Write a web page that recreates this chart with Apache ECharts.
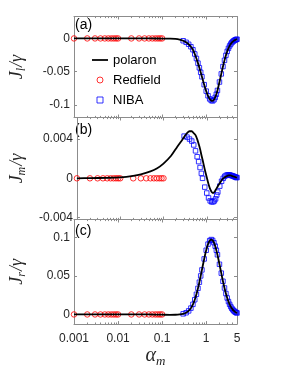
<!DOCTYPE html>
<html><head><meta charset="utf-8">
<script src="https://cdn.jsdelivr.net/npm/echarts@6/dist/echarts.min.js"></script>
<style>html,body{margin:0;padding:0;background:#fff}#c{width:299px;height:369px}</style>
</head><body><div id="c"></div><script>
// ---------- data ----------
const redfieldX = [0.001,0.002,0.003,0.004,0.005,0.006,0.007,0.008,0.009,0.01,0.02,0.03,0.04,0.05,0.06,0.07,0.08,0.09,0.1];
const redfieldL = [0,0,0,0,0,0,0,0,0,0,0,0,0,0,0,0,0,0,0];
const redfieldM = [0,0,0,0,0,0,0,0,0,0,0,0,0,0,0,0,0,0,0];
const redfieldR = [0,0,0,0,0,0,0,0,0,0,0,0,0,0,0,0,0,0,0];

const polaronX = [0.001,0.002,0.005,0.01,0.02,0.03,0.05,0.07,0.1,0.15,0.2,0.25,0.3,0.35,0.4,0.45,0.5,0.55,0.6,0.65,0.7,0.75,0.8,0.9,1.0,1.1,1.2,1.3,1.4,1.5,1.6,1.7,1.8,2.0,2.2,2.4,2.6,2.8,3.0,3.2,3.4,3.6,3.8,4.0,4.2,4.4,4.6,4.8,5.0];
const polaronL = [0,0,0,0,0,0,0,-0.0001,-0.0002,-0.0004,-0.0008,-0.0018,-0.0035,-0.0058,-0.0088,-0.0125,-0.017,-0.0234,-0.0302,-0.0372,-0.0442,-0.051,-0.0577,-0.0696,-0.0793,-0.0863,-0.091,-0.0934,-0.094,-0.0923,-0.0888,-0.084,-0.0783,-0.0656,-0.0534,-0.0423,-0.033,-0.0255,-0.0195,-0.0149,-0.0113,-0.0085,-0.0064,-0.0049,-0.0037,-0.0028,-0.0021,-0.0016,-0.0012];
const polaronM = [0,0.00002,0.00005,0.0001,0.00025,0.0004,0.0007,0.001,0.0015,0.0023,0.0031,0.0037,0.0042,0.0046,0.0048,0.0048,0.0046,0.0044,0.004,0.0035,0.003,0.0024,0.0019,0.0009,0.0001,-0.0006,-0.0011,-0.0014,-0.0015,-0.0014,-0.0012,-0.001,-0.0008,-0.0005,-0.0002,0,0.0001,0.0002,0.00025,0.0003,0.0003,0.0003,0.00025,0.0002,0.00018,0.00015,0.00012,0.0001,0.00008];
const polaronR = [0,0,0,0,0,0,0,-0.0001,-0.0003,-0.0005,-0.0004,0,0.0008,0.0022,0.0046,0.0082,0.0131,0.0191,0.0261,0.0338,0.0418,0.0499,0.0577,0.0719,0.0832,0.0911,0.0956,0.097,0.0959,0.0929,0.0885,0.0832,0.0773,0.065,0.0535,0.043,0.0343,0.0271,0.0213,0.0167,0.0131,0.0102,0.008,0.0063,0.0049,0.0039,0.003,0.0024,0.0019];

const nibaX = [0.3,0.35,0.4,0.45,0.5,0.55,0.6,0.65,0.7,0.75,0.8,0.9,1.0,1.1,1.2,1.3,1.4,1.5,1.6,1.7,1.8,2.0,2.2,2.4,2.6,2.8,3.0,3.2,3.4,3.6,3.8,4.0,4.2,4.4,4.6,4.8,5.0];
const nibaL = [-0.0035,-0.0058,-0.0088,-0.0125,-0.017,-0.0234,-0.0302,-0.0372,-0.0442,-0.051,-0.0577,-0.0696,-0.0793,-0.0863,-0.091,-0.0934,-0.094,-0.0923,-0.0888,-0.084,-0.0783,-0.0656,-0.0534,-0.0423,-0.033,-0.0255,-0.0195,-0.0149,-0.0113,-0.0085,-0.0064,-0.0049,-0.0037,-0.0028,-0.0021,-0.0016,-0.0012];
const nibaM = [0.0043,0.0042,0.004,0.0038,0.0034,0.0028,0.0022,0.0017,0.0011,0.0005,0,-0.0009,-0.0015,-0.002,-0.0023,-0.0024,-0.0024,-0.0023,-0.0021,-0.0017,-0.0014,-0.0008,-0.0003,0,0.0002,0.0003,0.00034,0.00035,0.00034,0.0003,0.00027,0.00024,0.0002,0.00016,0.00012,0.00009,0.00007];
const nibaR = [0.0008,0.0022,0.0046,0.0082,0.0131,0.0191,0.0261,0.0338,0.0418,0.0499,0.0577,0.0719,0.0832,0.0911,0.0956,0.097,0.0959,0.0929,0.0885,0.0832,0.0773,0.065,0.0535,0.043,0.0343,0.0271,0.0213,0.0167,0.0131,0.0102,0.008,0.0063,0.0049,0.0039,0.003,0.0024,0.0019];

const xTickValues = [0.001,0.01,0.1,1,5];
const xMinorTicks = [0.002,0.003,0.004,0.005,0.006,0.007,0.008,0.009,0.02,0.03,0.04,0.05,0.06,0.07,0.08,0.09,0.2,0.3,0.4,0.5,0.6,0.7,0.8,0.9,2,3,4];
const yTicksL = [-0.1,-0.05,0];
const yTicksM = [-0.004,0,0.004];
const yTicksR = [0,0.05,0.1];
const panelLetters = ['(a)','(b)','(c)'];
const yNames = ['{i|J}{s|l}{i|/γ}','{i|J}{s|m}{i|/γ}','{i|J}{s|r}{i|/γ}'];

// ---------- layout ----------
const AX = '#8c8c8c', TXT = '#262626', SANS = 'Liberation Sans', SERIF = 'Liberation Serif';
const grids = [
  {left:71, width:166, top:16.5, height:101},
  {left:71, width:166, top:117.5, height:102},
  {left:71, width:166, top:219.5, height:107}
];
const yRanges = [[-0.119,0.033],[-0.0042,0.0062],[-0.0125,0.123]];
const yTicks = [yTicksL, yTicksM, yTicksR];
const panelY = [26, 131, 232];
const richName = {
  i:{fontFamily:SERIF, fontStyle:'italic', fontSize:18, color:TXT, lineHeight:22, verticalAlign:'middle'},
  s:{fontFamily:SERIF, fontStyle:'italic', fontSize:12, color:TXT, lineHeight:12, verticalAlign:'bottom', padding:[0,1,0,0]}
};
const fmt = v => String(Math.round(v*100000)/100000);

const xAxes = [], yAxes = [];
for (let i = 0; i < 3; i++) {
  const base = {gridIndex:i, type:'log', logBase:10, min:0.001, max:5, splitLine:{show:false}, minorTick:{show:false}};
  xAxes.push(Object.assign({}, base, {position:'bottom',
    axisLine:{show:true, onZero:false, lineStyle:{color:AX, width:1}},
    axisTick:{show:true, inside:true, length:3, lineStyle:{color:AX}, customValues:xTickValues},
    axisLabel:{show:i===2, customValues:xTickValues, formatter:fmt, color:TXT, fontSize:12, fontFamily:SANS, margin:9},
    name: i===2 ? '{a|α}{s|m}' : '', nameLocation:'middle', nameGap:15,
    nameTextStyle:{rich:{a:{fontFamily:SERIF, fontStyle:'italic', fontSize:20, color:TXT, lineHeight:24, verticalAlign:'middle'},
                         s:{fontFamily:SERIF, fontStyle:'italic', fontSize:13, color:TXT, lineHeight:13, verticalAlign:'bottom'}}}
  }));
  xAxes.push(Object.assign({}, base, {position:'bottom', axisLine:{show:false, onZero:false},
    axisTick:{show:true, inside:true, length:1.6, lineStyle:{color:AX}, customValues:xMinorTicks}, axisLabel:{show:false}}));
  xAxes.push(Object.assign({}, base, {position:'top', axisLine:{show:true, onZero:false, lineStyle:{color:AX, width:1}},
    axisTick:{show:true, inside:true, length:3, lineStyle:{color:AX}, customValues:xTickValues}, axisLabel:{show:false}}));
  xAxes.push(Object.assign({}, base, {position:'top', axisLine:{show:false, onZero:false},
    axisTick:{show:true, inside:true, length:1.6, lineStyle:{color:AX}, customValues:xMinorTicks}, axisLabel:{show:false}}));

  const ybase = {gridIndex:i, type:'value', min:yRanges[i][0], max:yRanges[i][1], splitLine:{show:false}};
  yAxes.push(Object.assign({}, ybase, {position:'left',
    axisLine:{show:true, onZero:false, lineStyle:{color:AX, width:1}},
    axisTick:{show:true, inside:true, length:3, lineStyle:{color:AX}, customValues:yTicks[i]},
    axisLabel:{show:true, customValues:yTicks[i], formatter:fmt, color:TXT, fontSize:12, fontFamily:SANS, margin:4},
    name:yNames[i], nameLocation:'middle', nameRotate:90, nameGap:46, nameTextStyle:{rich:richName}
  }));
  yAxes.push(Object.assign({}, ybase, {position:'right',
    axisLine:{show:true, onZero:false, lineStyle:{color:AX, width:1}},
    axisTick:{show:true, inside:true, length:3, lineStyle:{color:AX}, customValues:yTicks[i]},
    axisLabel:{show:false}}));
}

const zip = (xs, ys) => xs.map((x, k) => [x, ys[k]]);
const redSets = [redfieldL, redfieldM, redfieldR];
const nibaSets = [nibaL, nibaM, nibaR];
const polSets = [polaronL, polaronM, polaronR];
const series = [];
for (let i = 0; i < 3; i++) {
  series.push({name:'Redfield', type:'scatter', xAxisIndex:4*i, yAxisIndex:2*i, clip:false, z:3,
    symbol:'circle', symbolSize:5.5, itemStyle:{color:'rgba(0,0,0,0)', borderColor:'#ff0000', borderWidth:1},
    data:zip(redfieldX, redSets[i])});
  series.push({name:'NIBA', type:'scatter', xAxisIndex:4*i, yAxisIndex:2*i, clip:false, z:3,
    symbol:'rect', symbolSize:4.5, itemStyle:{color:'rgba(0,0,0,0)', borderColor:'#0000ff', borderWidth:1},
    data:zip(nibaX, nibaSets[i])});
  series.push({name:'polaron', type:'line', xAxisIndex:4*i, yAxisIndex:2*i, clip:false, z:4,
    symbol:'none', showSymbol:false, smooth:0.3, lineStyle:{color:'#000', width:1.8}, itemStyle:{color:'#000'},
    data:zip(polaronX, polSets[i])});
}

const graphic = panelLetters.map((t, i) => ({type:'text', left:75, top:panelY[i]-8,
  style:{text:t, fill:'#000', font:'14px "Liberation Sans"'}}));

const chart = echarts.init(document.getElementById('c'));
chart.setOption({
  animation:false, backgroundColor:'#fff',
  grid:grids, xAxis:xAxes, yAxis:yAxes, series:series, graphic:graphic,
  legend:{orient:'vertical', left:92, top:50, padding:0, itemWidth:16, itemHeight:6, itemGap:0, symbolKeepAspect:true,
    data:[
      {name:'polaron', icon:'path://M0,0H18V2H0Z', itemStyle:{color:'#000', borderWidth:0}},
      {name:'Redfield', icon:'circle', itemStyle:{color:'rgba(0,0,0,0)', borderColor:'#ff0000', borderWidth:1}},
      {name:'NIBA', icon:'path://M0,0H10V10H0Z', itemStyle:{color:'rgba(0,0,0,0)', borderColor:'#0000ff', borderWidth:1}}
    ],
    textStyle:{fontFamily:SANS, fontSize:13, color:'#000', lineHeight:20}}
});
</script></body></html>
